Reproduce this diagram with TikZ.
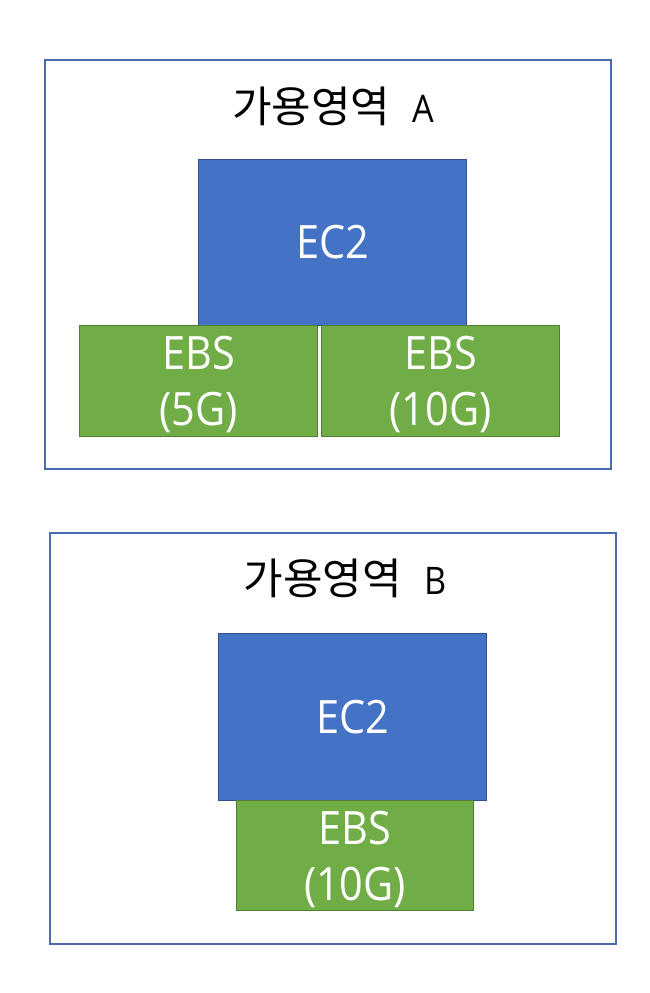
\documentclass[tikz,border=0pt]{standalone}
\usepackage{fontspec}
\setmainfont{Noto Sans CJK KR}
\newfontfamily\latfont[FakeStretch=0.9]{Open Sans}
\definecolor{zoneline}{HTML}{4A6BAE}
\definecolor{ec2fill}{HTML}{4472C4}
\definecolor{ec2line}{HTML}{2F528F}
\definecolor{ebsfill}{HTML}{70AD47}
\definecolor{ebsline}{HTML}{507E32}
\newcommand\stackpair[2]{\raisebox{0pt}[\height][0pt]{\vbox{\baselineskip=56pt\lineskiplimit=-100pt
  \hbox to 150pt{\hss#1\hss}\hbox to 150pt{\hss#2\hss}}}}
\begin{document}
\begin{tikzpicture}[x=1pt,y=-1pt,
  zone/.style={draw=zoneline, line width=1.5pt, fill=white, anchor=north west, inner sep=0pt},
  ec2box/.style={draw=ec2line, line width=1pt, fill=ec2fill, anchor=north west, inner sep=0pt,
    text=white, font=\latfont\fontsize{46}{50}\selectfont},
  ebsbox/.style={draw=ebsline, line width=1pt, fill=ebsfill, anchor=north west, inner sep=0pt,
    text=white, font=\latfont\fontsize{46}{56}\selectfont},
  title/.style={font=\fontsize{43}{46}\selectfont, text=black, anchor=base, inner sep=0pt}
]
\useasboundingbox[fill=white] (0,0) rectangle (650,993);
% zone A
\node[zone, minimum width=566pt, minimum height=409pt] (zoneA) at (44,59) {};
\node[title] (titleA) at (333,122) {가용영역\hspace{22pt}{\latfont\fontsize{38}{40}\selectfont A}};
\node[ec2box, minimum width=268pt, minimum height=166pt] (ec2A) at (198,159) {EC2};
\node[ebsbox, minimum width=238pt, minimum height=111pt] (ebsA1) at (79,325) {\stackpair{EBS}{(5G)}};
\node[ebsbox, minimum width=238pt, minimum height=111pt] (ebsA2) at (321,325) {\stackpair{EBS}{(10G)}};
% zone B
\node[zone, minimum width=566pt, minimum height=411pt] (zoneB) at (49,532) {};
\node[title] (titleB) at (345,594) {가용영역\hspace{22pt}{\latfont\fontsize{38}{40}\selectfont B}};
\node[ec2box, minimum width=268pt, minimum height=167pt] (ec2B) at (218,633) {EC2};
\node[ebsbox, minimum width=237pt, minimum height=110pt] (ebsB) at (236,800) {\stackpair{EBS}{(10G)}};
\end{tikzpicture}
\end{document}
